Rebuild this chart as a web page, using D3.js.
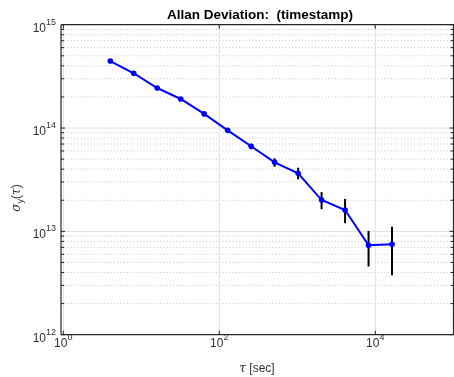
<!DOCTYPE html>
<html><head><meta charset="utf-8">
<script src="https://cdn.jsdelivr.net/npm/d3@7"></script>
<style>body{margin:0;background:#fff}svg{display:block;will-change:transform}text{font-family:"Liberation Sans",Arial,Helvetica,sans-serif;white-space:pre}</style>
</head><body><svg id="c" width="454" height="377"></svg>
<script>
const tau = [4, 8, 16, 32, 64, 128, 256, 512, 1024, 2048, 4096, 8192, 16384];
const adev = [4.45e14, 3.39e14, 2.44e14, 1.91e14, 1.37e14, 9.5e13, 6.66e13, 4.66e13, 3.65e13, 2.01e13, 1.61e13, 7.33e12, 7.5e12];
const errHigh = [4.5e14, 3.43e14, 2.48e14, 1.95e14, 1.41e14, 9.85e13, 7.05e13, 5.09e13, 4.13e13, 2.40e13, 2.06e13, 1.01e13, 1.11e13];
const errLow = [4.4e14, 3.35e14, 2.40e14, 1.87e14, 1.33e14, 9.15e13, 6.23e13, 4.22e13, 3.19e13, 1.64e13, 1.20e13, 4.57e12, 3.76e12];
const xTicks = [1, 1e2, 1e4];
const xTickExp = ["0", "2", "4"];
const yTicks = [1e12, 1e13, 1e14, 1e15];
const yTickExp = ["12", "13", "14", "15"];
const title = "Allan Deviation:  (timestamp)";

const svg = d3.select("#c");
const L = 61, R = 453.5, T = 24.7, B = 334.7;
const x = d3.scaleLog().domain([1, 1e5]).range([63.3, 453.3]);
const y = d3.scaleLog().domain([1e12, 1e15]).range([B, T]);
const axisCol = "#262626";

// minor horizontal grid (dotted)
const minorY = [];
for (let e = 12; e < 15; e++) for (let m = 2; m <= 9; m++) minorY.push(m * Math.pow(10, e));
svg.append("g").selectAll("line").data(minorY).join("line")
  .attr("x1", L).attr("x2", R).attr("y1", d => y(d)).attr("y2", d => y(d))
  .attr("stroke", "#c4c4c4").attr("stroke-width", 1).attr("stroke-dasharray", "1,2.3");
// major grid
svg.append("g").selectAll("line").data(yTicks.slice(1, 3)).join("line")
  .attr("x1", L).attr("x2", R).attr("y1", d => y(d)).attr("y2", d => y(d))
  .attr("stroke", "#dfdfdf").attr("stroke-width", 1);
svg.append("g").selectAll("line").data(xTicks).join("line")
  .attr("x1", d => x(d)).attr("x2", d => x(d)).attr("y1", T).attr("y2", B)
  .attr("stroke", "#dfdfdf").attr("stroke-width", 1);

// axes box
svg.append("line").attr("x1", L).attr("x2", L).attr("y1", T).attr("y2", B).attr("stroke", axisCol).attr("stroke-width", 1.2);
svg.append("line").attr("x1", L).attr("x2", 454).attr("y1", B).attr("y2", B).attr("stroke", axisCol).attr("stroke-width", 1.2);
svg.append("line").attr("x1", L).attr("x2", 454).attr("y1", T).attr("y2", T).attr("stroke", axisCol).attr("stroke-width", 1.2);
svg.append("line").attr("x1", R).attr("x2", R).attr("y1", T).attr("y2", B).attr("stroke", axisCol).attr("stroke-width", 1.2);

// ticks
const tk = svg.append("g").attr("stroke", axisCol).attr("stroke-width", 1);
tk.selectAll(".ymaj").data(yTicks).join("line").attr("x1", L).attr("x2", L + 4).attr("y1", d => y(d)).attr("y2", d => y(d));
tk.selectAll(".ymin").data(minorY).join("line").attr("x1", L).attr("x2", L + 3).attr("y1", d => y(d)).attr("y2", d => y(d));
tk.selectAll(".ymajr").data(yTicks).join("line").attr("x1", R).attr("x2", R - 4).attr("y1", d => y(d)).attr("y2", d => y(d));
tk.selectAll(".yminr").data(minorY).join("line").attr("x1", R).attr("x2", R - 3).attr("y1", d => y(d)).attr("y2", d => y(d));
tk.selectAll(".xb").data(xTicks).join("line").attr("x1", d => x(d)).attr("x2", d => x(d)).attr("y1", B).attr("y2", B - 4);
tk.selectAll(".xt").data(xTicks).join("line").attr("x1", d => x(d)).attr("x2", d => x(d)).attr("y1", T).attr("y2", T + 4);

// tick labels
const yl = svg.append("g").attr("fill", "#303030").attr("font-size", 12);
yTicks.forEach((v, i) => {
  const t = yl.append("text").attr("x", 56).attr("y", y(v) + 7).attr("text-anchor", "end");
  t.append("tspan").text("10");
  t.append("tspan").attr("font-size", 9).attr("dy", -7).text(yTickExp[i]);
});
xTicks.forEach((v, i) => {
  const t = yl.append("text").attr("x", x(v)).attr("y", 347).attr("text-anchor", "middle");
  t.append("tspan").text("10");
  t.append("tspan").attr("font-size", 9).attr("dy", -7).text(xTickExp[i]);
});

// error bars
svg.append("g").selectAll("line").data(tau).join("line")
  .attr("x1", d => x(d)).attr("x2", d => x(d))
  .attr("y1", (d, i) => y(errLow[i])).attr("y2", (d, i) => y(errHigh[i]))
  .attr("stroke", "#000").attr("stroke-width", 2);

// line + markers
const line = d3.line().x((d, i) => x(tau[i])).y(d => y(d));
svg.append("path").datum(adev).attr("d", line).attr("fill", "none").attr("stroke", "#0000ff").attr("stroke-width", 2);
svg.append("g").selectAll("circle").data(adev).join("circle")
  .attr("cx", (d, i) => x(tau[i])).attr("cy", d => y(d)).attr("r", 2.8).attr("fill", "#0000ff");

// title
svg.append("text").attr("x", 260).attr("y", 19).attr("text-anchor", "middle")
  .attr("font-size", 13.5).attr("font-weight", "bold").attr("fill", "#000").text(title);

// x label
const xl = svg.append("text").attr("x", 257).attr("y", 372).attr("text-anchor", "middle").attr("font-size", 12).attr("fill", "#303030");
xl.append("tspan").attr("font-family", "DejaVu Serif, serif").attr("font-style", "italic").text("τ");
xl.append("tspan").text(" [sec]");

// y label
const ylab = svg.append("text").attr("transform", "translate(20,198) rotate(-90)").attr("text-anchor", "middle").attr("font-size", 12).attr("fill", "#303030");
ylab.append("tspan").attr("font-family", "DejaVu Serif, serif").attr("font-style", "italic").text("σ");
ylab.append("tspan").attr("font-size", 9).attr("dy", 3).text("y");
ylab.append("tspan").attr("dy", -3).text("(");
ylab.append("tspan").attr("font-family", "DejaVu Serif, serif").attr("font-style", "italic").text("τ");
ylab.append("tspan").text(")");
</script></body></html>
